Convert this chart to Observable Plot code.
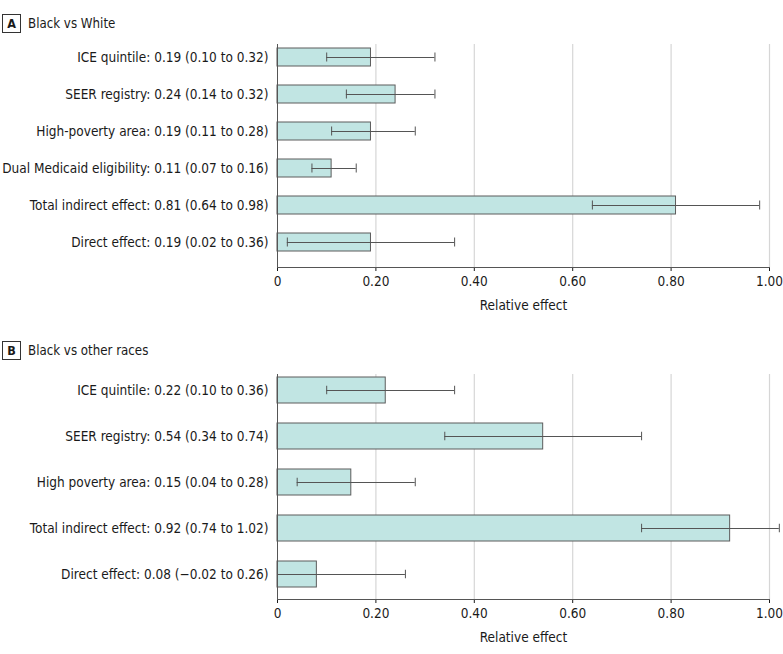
<!DOCTYPE html>
<html><head><meta charset="utf-8">
<script src="https://cdn.jsdelivr.net/npm/d3@7"></script>
<script src="https://cdn.jsdelivr.net/npm/@observablehq/plot@0.6"></script>
<style>
body{margin:0;background:#fff;}
#root{position:relative;width:783px;height:654px;overflow:hidden;font-family:"DejaVu Sans Condensed","DejaVu Sans",sans-serif;color:#1a1a1a;}
.hdr{position:absolute;left:2px;height:19px;display:flex;align-items:center;}
.box{box-sizing:border-box;width:19px;height:19px;border:1px solid #333;font-weight:bold;font-size:12.5px;display:flex;align-items:center;justify-content:center;}
.ttl{margin-left:7px;font-size:13.2px;}
.panel{position:absolute;left:0;}
</style>
</head><body>
<div id="root">
  <div class="hdr" style="top:14px"><div class="box">A</div><div class="ttl" id="tA"></div></div>
  <div class="hdr" style="top:341px"><div class="box">B</div><div class="ttl" id="tB"></div></div>
  <div class="panel" id="pA" style="top:0px"></div>
  <div class="panel" id="pB" style="top:330px"></div>
</div>
<script>
// ---- data ----
const titleA = "Black vs White";
const namesA = ["ICE quintile", "SEER registry", "High-poverty area", "Dual Medicaid eligibility", "Total indirect effect", "Direct effect"];
const estA   = [0.19, 0.24, 0.19, 0.11, 0.81, 0.19];
const lowA   = [0.10, 0.14, 0.11, 0.07, 0.64, 0.02];
const highA  = [0.32, 0.32, 0.28, 0.16, 0.98, 0.36];

const titleB = "Black vs other races";
const namesB = ["ICE quintile", "SEER registry", "High poverty area", "Total indirect effect", "Direct effect"];
const estB   = [0.22, 0.54, 0.15, 0.92, 0.08];
const lowB   = [0.10, 0.34, 0.04, 0.74, -0.02];
const highB  = [0.36, 0.74, 0.28, 1.02, 0.26];

const xTicks = [0, 0.2, 0.4, 0.6, 0.8, 1.0];
const xLabel = "Relative effect";
// --------------

const FONT = '"DejaVu Sans Condensed","DejaVu Sans",sans-serif';
const fmt = v => (v < 0 ? "\u2212" : "") + Math.abs(v).toFixed(2);

function panel(names, est, low, high, o) {
  const rows = names.map((n, i) => ({
    label: `${n}: ${fmt(est[i])} (${fmt(low[i])} to ${fmt(high[i])})`,
    est: est[i], lo: low[i], hi: high[i]
  }));
  const ink = "#555";
  return Plot.plot({
    width: 783, height: o.height,
    marginLeft: 277, marginRight: 14, marginTop: o.marginTop, marginBottom: o.marginBottom,
    style: {fontFamily: FONT, fontSize: "13.5px", color: "#1a1a1a", background: "transparent", overflow: "visible"},
    x: {domain: [0, 1], ticks: xTicks, tickFormat: d => d === 0 ? "0" : d.toFixed(2),
        tickSize: 4, tickPadding: 5, label: xLabel, labelAnchor: "center", labelOffset: 42, labelArrow: false},
    y: {domain: rows.map(d => d.label), paddingInner: o.paddingInner, paddingOuter: 0,
        insetTop: o.insetTop, insetBottom: o.insetBottom, tickSize: 0, tickPadding: 9, label: null},
    marks: [
      Plot.ruleX(xTicks.filter(d => d > 0), {stroke: "#d6d6d6", strokeWidth: 1.2}),
      Plot.barX(rows, {x: "est", y: "label", fill: "#c1e5e3", stroke: "#5c5c5c", strokeWidth: 1}),
      Plot.ruleY(rows, {y: "label", x1: d => Math.max(0, d.lo), x2: "hi", stroke: ink, strokeWidth: 1}),
      Plot.tickX(rows.filter(d => d.lo >= 0), {x: "lo", y: "label", stroke: ink, insetTop: o.capInset, insetBottom: o.capInset}),
      Plot.tickX(rows, {x: "hi", y: "label", stroke: ink, insetTop: o.capInset, insetBottom: o.capInset}),
      Plot.ruleX([0], {stroke: ink}),
      Plot.frame({anchor: "bottom", stroke: ink})
    ]
  });
}

document.getElementById("tA").textContent = titleA;
document.getElementById("tB").textContent = titleB;

document.getElementById("pA").append(panel(namesA, estA, lowA, highA, {
  height: 320, marginTop: 44, marginBottom: 53, insetTop: 2, insetBottom: 14, paddingInner: 0.524, capInset: 4.5
}));
document.getElementById("pB").append(panel(namesB, estB, lowB, highB, {
  height: 324, marginTop: 44, marginBottom: 55, insetTop: 3, insetBottom: 11.5, paddingInner: 0.424, capInset: 8.75
}));
</script>
</body></html>
